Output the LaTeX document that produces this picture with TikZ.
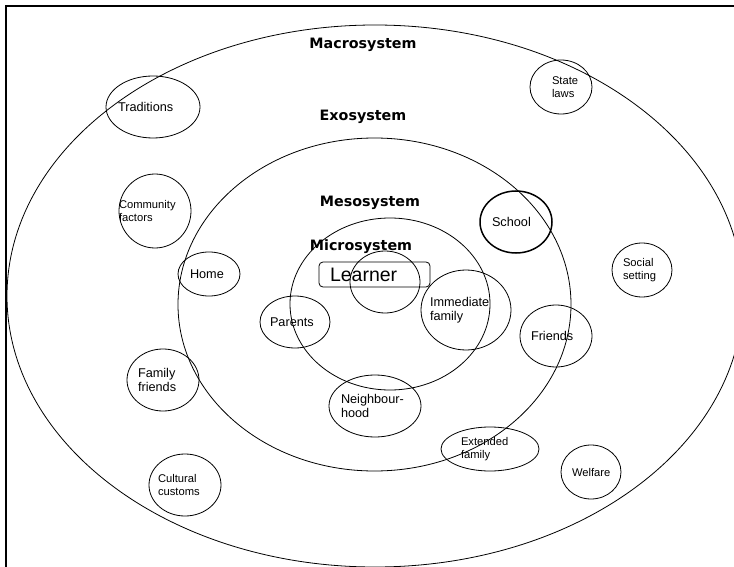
\documentclass[tikz,border=0pt]{standalone}
\usepackage{fontspec}
\setmainfont{Liberation Sans}
\newfontfamily\sysfont{DejaVu Sans}
\usetikzlibrary{shapes}

\begin{document}
\begin{tikzpicture}[x=1pt,y=-1pt,
  ring/.style={line width=0.8pt},
  ctx node/.style={ellipse,draw,line width=0.8pt,inner xsep=-12pt,inner ysep=-3pt,
    align=left,font=\fontsize{12.7}{13.5}\selectfont},
  small text/.style={font=\fontsize{11.2}{12.5}\selectfont},
  esize/.style 2 args={minimum width=#1pt,minimum height=#2pt},
  sys label/.style={font=\sysfont\bfseries\fontsize{14.3}{16}\selectfont},
  learner box/.style={draw,rounded corners=4pt,line width=0.8pt,minimum height=25pt,
    text width=89pt,inner xsep=11pt,inner ysep=0pt,align=left,
    font=\fontsize{19.5}{22}\selectfont}]

  \useasboundingbox (0,0) rectangle (734,567);
  \draw[line width=2pt] (6,575) -- (6,6) -- (740,6);

  % the systems
  \draw[ring] (375,296) ellipse [x radius=368pt,y radius=271pt];
  \draw[ring] (374.5,304.5) ellipse [x radius=196.5pt,y radius=166.5pt];
  \draw[ring] (390,304) ellipse [x radius=100pt,y radius=86pt];
  \draw[ring] (385,282) ellipse [x radius=35pt,y radius=31pt];

  \node[sys label] (macro) at (363,45) {Macrosystem};
  \node[sys label] (exo) at (363,117) {Exosystem};
  \node[sys label] (meso) at (370,203) {Mesosystem};
  \node[sys label] (micro) at (361,247) {Microsystem};

  \node[learner box] (learner) at (374.5,274.5) {Learner};

  \node[ctx node,esize={94}{62},text width=70pt] (trad) at (153,107) {Traditions};
  \node[ctx node,small text,esize={72}{74},text width=72pt] (comm) at (155,211) {Community\\factors};
  \node[ctx node,esize={62}{44},text width=38pt] (home) at (209,274) {Home};
  \node[ctx node,small text,esize={62}{54},text width=18pt] (state) at (561,87) {State\\laws};
  \node[ctx node,line width=1.5pt,esize={72}{62},text width=48pt] (school) at (516,222) {School};
  \node[ctx node,small text,esize={60}{54},text width=38pt] (social) at (642,270) {Social\\setting};
  \node[ctx node,esize={70}{52},text width=50pt] (parents) at (295,322) {Parents};
  \node[ctx node,esize={90}{80},text width=72pt] (immed) at (466,310) {Immediate\\family};
  \node[ctx node,esize={72}{62},text width=50pt] (friends) at (556,336) {Friends};
  \node[ctx node,esize={72}{62},text width=50pt] (famfr) at (163,380) {Family\\friends};
  \node[ctx node,esize={92}{62},text width=68pt] (neigh) at (375,406) {Neighbour-\\hood};
  \node[ctx node,small text,esize={98}{44},text width=58pt] (ext) at (490,449) {Extended\\family};
  \node[ctx node,small text,esize={60}{54},text width=38pt] (welfare) at (591,472) {Welfare};
  \node[ctx node,small text,esize={72}{62},text width=54pt] (cult) at (185,485) {Cultural\\customs};
\end{tikzpicture}
\end{document}
